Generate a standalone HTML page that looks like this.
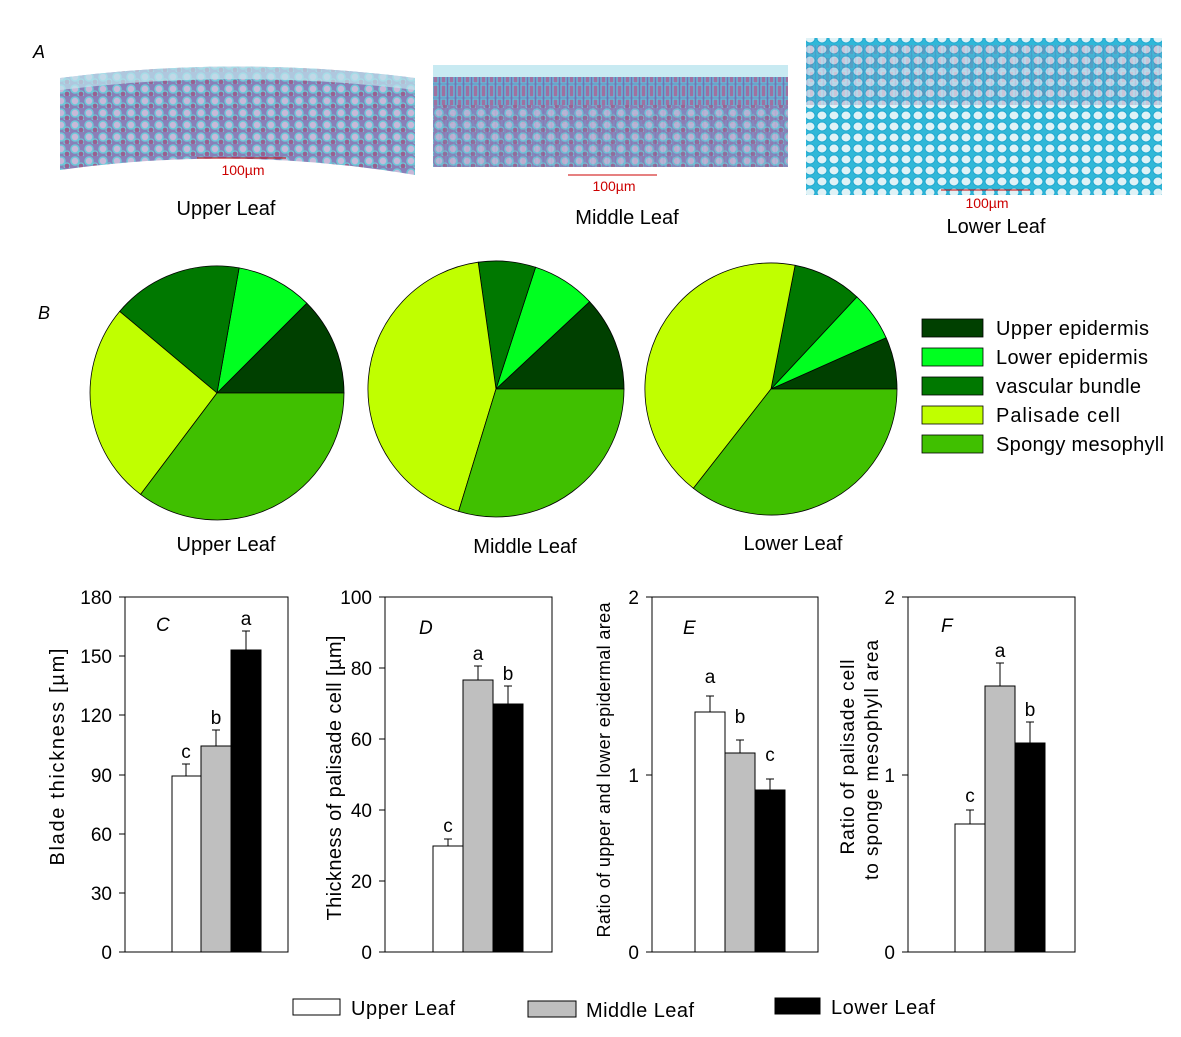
<!DOCTYPE html>
<html><head><meta charset="utf-8"><style>
body{margin:0;background:#fff;width:1181px;height:1032px;overflow:hidden}
svg text{font-family:"Liberation Sans",Arial,sans-serif}
</style></head><body>
<svg width="1181" height="1032" viewBox="0 0 1181 1032" xmlns="http://www.w3.org/2000/svg">
<defs>
<pattern id="cells" width="14" height="12" patternUnits="userSpaceOnUse">
<rect width="14" height="12" fill="#8a7fb8"/>
<ellipse cx="5" cy="5" rx="4" ry="4" fill="#c8b8d8" stroke="#6cc8d8" stroke-width="1.5"/>
<ellipse cx="11" cy="10" rx="3" ry="3" fill="#9a6090" stroke="#6cc8d8" stroke-width="1.2"/>
</pattern>
<pattern id="cells2" width="8" height="14" patternUnits="userSpaceOnUse">
<rect width="8" height="14" fill="#7b6fb0"/>
<rect x="1" y="1" width="5" height="12" fill="#a070a0" stroke="#5cc8e0" stroke-width="1.2"/>
</pattern>
<pattern id="cells3" width="12" height="11" patternUnits="userSpaceOnUse">
<rect width="12" height="11" fill="#30b8d8"/>
<ellipse cx="6" cy="5.5" rx="5" ry="4.5" fill="#e0f2f6" stroke="#20a8d0" stroke-width="1"/>
</pattern>
</defs>
<text x="33" y="58" font-size="18" font-style="italic">A</text>
<path d="M60,78 Q238,55 415,78 L415,175 Q238,145 60,170 Z" fill="url(#cells)"/>
<path d="M60,78 Q238,55 415,78 L415,90 Q238,68 60,90 Z" fill="#bfe6ee" opacity="0.7"/>
<line x1="197" y1="158" x2="286" y2="158" stroke="#c00" stroke-width="1"/>
<text x="243" y="175" font-size="14" fill="#c00" text-anchor="middle">100µm</text>
<text x="226" y="215" font-size="20" text-anchor="middle">Upper Leaf</text>

<rect x="433" y="65" width="355" height="102" fill="url(#cells2)"/>
<rect x="433" y="65" width="355" height="12" fill="#c8eaf2"/>
<rect x="433" y="105" width="355" height="62" fill="url(#cells)" opacity="0.8"/>
<line x1="568" y1="175" x2="657" y2="175" stroke="#c00" stroke-width="1"/>
<text x="614" y="191" font-size="14" fill="#c00" text-anchor="middle">100µm</text>
<text x="627" y="224" font-size="20" text-anchor="middle">Middle Leaf</text>

<rect x="806" y="38" width="356" height="157" fill="url(#cells3)"/>
<rect x="806" y="45" width="356" height="60" fill="url(#cells2)" opacity="0.35"/>
<line x1="941" y1="190" x2="1030" y2="190" stroke="#c00" stroke-width="1"/>
<text x="987" y="208" font-size="14" fill="#c00" text-anchor="middle">100µm</text>
<text x="996" y="233" font-size="20" text-anchor="middle">Lower Leaf</text>

<text x="38" y="319" font-size="18" font-style="italic">B</text>
<g stroke="#000" stroke-width="0.8">
<path d="M217,393 L344,393 A127,127 0 0 0 306.8,303.2 Z" fill="#004000"/>
<path d="M217,393 L306.8,303.2 A127,127 0 0 0 239.1,267.9 Z" fill="#00ff20"/>
<path d="M217,393 L239.1,267.9 A127,127 0 0 0 119.7,311.4 Z" fill="#007800"/>
<path d="M217,393 L119.7,311.4 A127,127 0 0 0 140.6,494.4 Z" fill="#c0ff00"/>
<path d="M217,393 L140.6,494.4 A127,127 0 0 0 344,393 Z" fill="#40c000"/>

<path d="M496,389 L624,389 A128,128 0 0 0 589.6,301.7 Z" fill="#004000"/>
<path d="M496,389 L589.6,301.7 A128,128 0 0 0 535.6,267.3 Z" fill="#00ff20"/>
<path d="M496,389 L535.6,267.3 A128,128 0 0 0 478.2,262.2 Z" fill="#007800"/>
<path d="M496,389 L478.2,262.2 A128,128 0 0 0 458.6,511.4 Z" fill="#c0ff00"/>
<path d="M496,389 L458.6,511.4 A128,128 0 0 0 624,389 Z" fill="#40c000"/>

<path d="M771,389 L897,389 A126,126 0 0 0 886.1,337.7 Z" fill="#004000"/>
<path d="M771,389 L886.1,337.7 A126,126 0 0 0 856.9,296.9 Z" fill="#00ff20"/>
<path d="M771,389 L856.9,296.9 A126,126 0 0 0 795.1,265.3 Z" fill="#007800"/>
<path d="M771,389 L795.1,265.3 A126,126 0 0 0 693.4,488.3 Z" fill="#c0ff00"/>
<path d="M771,389 L693.4,488.3 A126,126 0 0 0 897,389 Z" fill="#40c000"/>
</g>
<text x="226" y="551" font-size="20" text-anchor="middle">Upper Leaf</text>
<text x="525" y="553" font-size="20" text-anchor="middle">Middle Leaf</text>
<text x="793" y="550" font-size="20" text-anchor="middle">Lower Leaf</text>
<g stroke="#000" stroke-width="0.8">
<rect x="922" y="319" width="61" height="18" fill="#004000"/>
<rect x="922" y="348" width="61" height="18" fill="#00ff20"/>
<rect x="922" y="377" width="61" height="18" fill="#007800"/>
<rect x="922" y="406" width="61" height="18" fill="#c0ff00"/>
<rect x="922" y="435" width="61" height="18" fill="#40c000"/>
</g>
<g font-size="20">
<text x="996" y="335" textLength="153">Upper epidermis</text>
<text x="996" y="364" textLength="152">Lower epidermis</text>
<text x="996" y="393" textLength="145">vascular bundle</text>
<text x="996" y="422" textLength="124">Palisade cell</text>
<text x="996" y="451" textLength="168">Spongy mesophyll</text>
</g>

<g font-size="19" stroke-width="1">
<rect x="125" y="597" width="163" height="355" fill="none" stroke="#000"/>
<g stroke="#000"><line x1="119" y1="597" x2="125" y2="597"/><line x1="119" y1="656" x2="125" y2="656"/><line x1="119" y1="715" x2="125" y2="715"/><line x1="119" y1="775" x2="125" y2="775"/><line x1="119" y1="834" x2="125" y2="834"/><line x1="119" y1="893" x2="125" y2="893"/><line x1="119" y1="952" x2="125" y2="952"/></g>
<g text-anchor="end"><text x="112" y="604">180</text><text x="112" y="663">150</text><text x="112" y="722">120</text><text x="112" y="782">90</text><text x="112" y="841">60</text><text x="112" y="900">30</text><text x="112" y="959">0</text></g>
<text transform="translate(64,757) rotate(-90)" text-anchor="middle" font-size="20" textLength="217">Blade thickness [µm]</text>
<text x="156" y="631" font-style="italic">C</text>
<g stroke="#000"><line x1="186" y1="776" x2="186" y2="764"/><line x1="182" y1="764" x2="190" y2="764"/>
<line x1="216" y1="746" x2="216" y2="730"/><line x1="212" y1="730" x2="220" y2="730"/>
<line x1="246" y1="650" x2="246" y2="631"/><line x1="242" y1="631" x2="250" y2="631"/>
<rect x="172" y="776" width="29" height="176" fill="#fff"/><rect x="201" y="746" width="30" height="206" fill="#bfbfbf"/><rect x="231" y="650" width="30" height="302" fill="#000"/></g>
<text x="186" y="758" text-anchor="middle">c</text><text x="216" y="724" text-anchor="middle">b</text><text x="246" y="625" text-anchor="middle">a</text>

<rect x="385" y="597" width="167" height="355" fill="none" stroke="#000"/>
<g stroke="#000"><line x1="379" y1="597" x2="385" y2="597"/><line x1="379" y1="668" x2="385" y2="668"/><line x1="379" y1="739" x2="385" y2="739"/><line x1="379" y1="810" x2="385" y2="810"/><line x1="379" y1="881" x2="385" y2="881"/><line x1="379" y1="952" x2="385" y2="952"/></g>
<g text-anchor="end"><text x="372" y="604">100</text><text x="372" y="675">80</text><text x="372" y="746">60</text><text x="372" y="817">40</text><text x="372" y="888">20</text><text x="372" y="959">0</text></g>
<text transform="translate(341,778) rotate(-90)" text-anchor="middle" font-size="20" textLength="285">Thickness of palisade cell [µm]</text>
<text x="419" y="634" font-style="italic">D</text>
<g stroke="#000"><line x1="448" y1="846" x2="448" y2="839"/><line x1="444" y1="839" x2="452" y2="839"/>
<line x1="478" y1="680" x2="478" y2="666"/><line x1="474" y1="666" x2="482" y2="666"/>
<line x1="508" y1="704" x2="508" y2="686"/><line x1="504" y1="686" x2="512" y2="686"/>
<rect x="433" y="846" width="30" height="106" fill="#fff"/><rect x="463" y="680" width="30" height="272" fill="#bfbfbf"/><rect x="493" y="704" width="30" height="248" fill="#000"/></g>
<text x="448" y="832" text-anchor="middle">c</text><text x="478" y="660" text-anchor="middle">a</text><text x="508" y="680" text-anchor="middle">b</text>

<rect x="652" y="597" width="166" height="355" fill="none" stroke="#000"/>
<g stroke="#000"><line x1="646" y1="597" x2="652" y2="597"/><line x1="646" y1="775" x2="652" y2="775"/><line x1="646" y1="952" x2="652" y2="952"/></g>
<g text-anchor="end"><text x="639" y="604">2</text><text x="639" y="782">1</text><text x="639" y="959">0</text></g>
<text transform="translate(610,770) rotate(-90)" text-anchor="middle" font-size="18" textLength="335">Ratio of upper and lower epidermal area</text>
<text x="683" y="634" font-style="italic">E</text>
<g stroke="#000"><line x1="710" y1="712" x2="710" y2="696"/><line x1="706" y1="696" x2="714" y2="696"/>
<line x1="740" y1="753" x2="740" y2="740"/><line x1="736" y1="740" x2="744" y2="740"/>
<line x1="770" y1="790" x2="770" y2="779"/><line x1="766" y1="779" x2="774" y2="779"/>
<rect x="695" y="712" width="30" height="240" fill="#fff"/><rect x="725" y="753" width="30" height="199" fill="#bfbfbf"/><rect x="755" y="790" width="30" height="162" fill="#000"/></g>
<text x="710" y="683" text-anchor="middle">a</text><text x="740" y="723" text-anchor="middle">b</text><text x="770" y="761" text-anchor="middle">c</text>

<rect x="908" y="597" width="167" height="355" fill="none" stroke="#000"/>
<g stroke="#000"><line x1="902" y1="597" x2="908" y2="597"/><line x1="902" y1="775" x2="908" y2="775"/><line x1="902" y1="952" x2="908" y2="952"/></g>
<g text-anchor="end"><text x="895" y="604">2</text><text x="895" y="782">1</text><text x="895" y="959">0</text></g>
<text transform="translate(854,757) rotate(-90)" text-anchor="middle" font-size="19" textLength="195">Ratio of palisade cell</text>
<text transform="translate(878,760) rotate(-90)" text-anchor="middle" font-size="19" textLength="240">to sponge mesophyll area</text>
<text x="941" y="632" font-style="italic">F</text>
<g stroke="#000"><line x1="970" y1="824" x2="970" y2="810"/><line x1="966" y1="810" x2="974" y2="810"/>
<line x1="1000" y1="686" x2="1000" y2="663"/><line x1="996" y1="663" x2="1004" y2="663"/>
<line x1="1030" y1="743" x2="1030" y2="722"/><line x1="1026" y1="722" x2="1034" y2="722"/>
<rect x="955" y="824" width="30" height="128" fill="#fff"/><rect x="985" y="686" width="30" height="266" fill="#bfbfbf"/><rect x="1015" y="743" width="30" height="209" fill="#000"/></g>
<text x="970" y="802" text-anchor="middle">c</text><text x="1000" y="657" text-anchor="middle">a</text><text x="1030" y="716" text-anchor="middle">b</text>
</g>

<g stroke="#000">
<rect x="293" y="999" width="47" height="16" fill="#fff"/>
<rect x="528" y="1001" width="48" height="16" fill="#bfbfbf"/>
<rect x="775" y="998" width="45" height="16" fill="#000"/>
</g>
<g font-size="20">
<text x="351" y="1015" textLength="104">Upper Leaf</text>
<text x="586" y="1017" textLength="108">Middle Leaf</text>
<text x="831" y="1014" textLength="104">Lower Leaf</text>
</g>
</svg>
</body></html>
